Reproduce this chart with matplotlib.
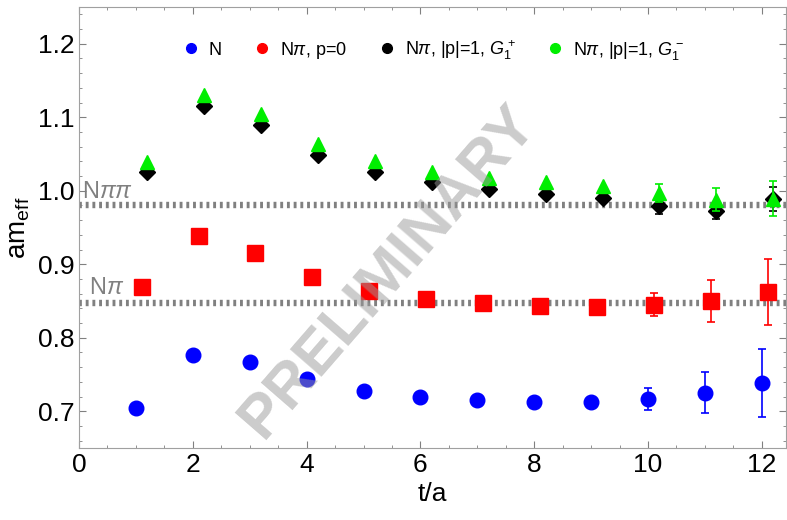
import matplotlib
matplotlib.use("Agg")
import matplotlib.pyplot as plt
import numpy as np
from matplotlib.ticker import MultipleLocator

plt.rcParams.update(
    {
        "font.family": ["Liberation Sans", "DejaVu Sans"],
        "mathtext.fontset": "custom",
        "mathtext.rm": "Liberation Sans",
        "mathtext.it": "Liberation Sans:italic",
        "mathtext.bf": "Liberation Sans:bold",
    }
)

# effective masses vs t/a
t = np.arange(1, 13)

n_vals = [0.704, 0.776, 0.767, 0.744, 0.728, 0.719, 0.715, 0.712, 0.713, 0.716, 0.725, 0.738]
n_errs = [0.0, 0.0, 0.0, 0.0, 0.0, 0.0, 0.0, 0.0, 0.0, 0.015, 0.028, 0.046]

npi0_vals = [0.869, 0.939, 0.915, 0.882, 0.863, 0.853, 0.847, 0.843, 0.842, 0.845, 0.850, 0.862]
npi0_errs = [0.0, 0.0, 0.0, 0.0, 0.0, 0.0, 0.0, 0.0, 0.0, 0.016, 0.029, 0.045]

g1p_vals = [1.026, 1.116, 1.089, 1.049, 1.025, 1.012, 1.002, 0.996, 0.990, 0.979, 0.973, 0.989]
g1p_errs = [0.0, 0.0, 0.0, 0.0, 0.0, 0.0, 0.0, 0.0, 0.0, 0.010, 0.012, 0.016]

g1m_vals = [1.039, 1.130, 1.105, 1.064, 1.040, 1.025, 1.017, 1.012, 1.006, 0.997, 0.988, 0.989]
g1m_errs = [0.0, 0.0, 0.0, 0.0, 0.0, 0.0, 0.0, 0.0, 0.0, 0.012, 0.016, 0.024]

# thresholds
e_npipi = 0.981
e_npi = 0.847


def draw(ax, x, vals, errs, **kw):
    vals = np.asarray(vals)
    errs = np.asarray(errs)
    ax.plot(x, vals, ls="none", **kw)
    has = errs > 0
    ax.errorbar(x[has], vals[has], yerr=errs[has], fmt="none", ecolor=kw["color"],
                capsize=3, elinewidth=1.2, capthick=1.2, zorder=kw.get("zorder", 3))


fig = plt.figure(figsize=(7.87, 5.2), dpi=100)
ax = fig.add_axes([0.1004, 0.1385, 0.898, 0.848])

ax.axhline(e_npipi, color="#808080", lw=4.6, ls=(0, (0.45, 0.6)), zorder=1)
ax.axhline(e_npi, color="#808080", lw=4.6, ls=(0, (0.45, 0.6)), zorder=1)
ax.text(0.05, e_npipi + 0.003, r"N$\pi\pi$", color="#808080", fontsize=17, va="bottom", ha="left")
ax.text(0.17, e_npi + 0.006, r"N$\pi$", color="#808080", fontsize=17, va="bottom", ha="left")

draw(ax, t, n_vals, n_errs, marker="o", color="#0000ff", ms=10.5, zorder=3)
draw(ax, t + 0.1, npi0_vals, npi0_errs, marker="s", color="#ff0000", ms=11, zorder=3)
draw(ax, t + 0.2, g1p_vals, g1p_errs, marker="D", color="#000000", ms=8, zorder=3)
draw(ax, t + 0.2, g1m_vals, g1m_errs, marker="^", color="#00ee00", ms=10.5, zorder=4)

# legend proxies
handles = [
    plt.Line2D([], [], ls="none", marker="o", ms=7, color="#0000ff"),
    plt.Line2D([], [], ls="none", marker="o", ms=7, color="#ff0000"),
    plt.Line2D([], [], ls="none", marker="o", ms=7, color="#000000"),
    plt.Line2D([], [], ls="none", marker="o", ms=7, color="#00ee00"),
]
labels = ["N", r"N$\pi$, p=0", r"N$\pi$, |p|=1, $G_1^+$", r"N$\pi$, |p|=1, $G_1^-$"]
ax.legend(handles, labels, ncol=4, loc="upper left", bbox_to_anchor=(0.12, 0.967),
          frameon=False, fontsize=13, handletextpad=0.4, columnspacing=1.6, handlelength=1.2)

ax.text(5.45, 0.89, "PRELIMINARY", rotation=49, fontsize=44, fontweight="bold",
        color="#999999", alpha=0.5, ha="center", va="center", zorder=5)

ax.set_xlim(0, 12.42)
ax.set_ylim(0.65, 1.25)
ax.xaxis.set_major_locator(MultipleLocator(2))
ax.xaxis.set_minor_locator(MultipleLocator(0.5))
ax.yaxis.set_major_locator(MultipleLocator(0.1))
ax.yaxis.set_minor_locator(MultipleLocator(0.02))
ax.yaxis.set_major_formatter(matplotlib.ticker.FormatStrFormatter("%.1f"))
ax.tick_params(which="both", direction="in", top=True, right=True, color="#808080", labelsize=19)
ax.tick_params(which="major", length=5)
ax.tick_params(which="minor", length=2.5)
for sp in ax.spines.values():
    sp.set_color("#a0a0a0")

ax.set_xlabel("t/a", fontsize=19)
ax.set_ylabel(r"am$_{\rm eff}$", fontsize=20)

fig.savefig("out.png")
